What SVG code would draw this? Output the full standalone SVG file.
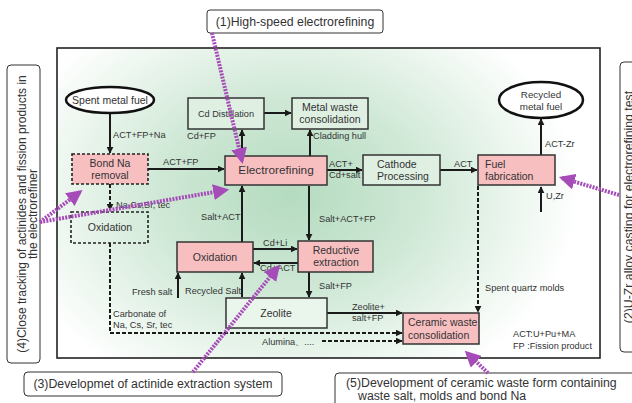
<svg xmlns="http://www.w3.org/2000/svg" width="632" height="403" viewBox="0 0 632 403">
<defs>
<radialGradient id="bg" gradientUnits="userSpaceOnUse" cx="290" cy="195" r="290" gradientTransform="translate(290 195) scale(1 0.75) translate(-290 -195)">
<stop offset="0" stop-color="#b4dbbf"/>
<stop offset="0.45" stop-color="#cfe8d6"/>
<stop offset="0.8" stop-color="#eef7f0"/>
<stop offset="1" stop-color="#ffffff"/>
</radialGradient>
<marker id="ahs" viewBox="0 0 10 10" refX="9" refY="5" markerWidth="7" markerHeight="7" orient="auto" markerUnits="userSpaceOnUse">
<path d="M0,0 L10,5 L0,10 z" fill="#1a1a1a"/>
</marker>
<marker id="pa" viewBox="0 0 10 10" refX="8" refY="5" markerWidth="4" markerHeight="4" orient="auto">
<path d="M0,0 L10,5 L0,10 z" fill="#a64cb8"/>
</marker>
</defs>
<style>
text{font-family:"Liberation Sans",Arial,sans-serif;fill:#333;}
.s{font-size:9.2px;}
.m{font-size:10.5px;}
.l{font-size:11.8px;}
.cl{font-size:12.3px;}
.pk{fill:#f8bfc1;stroke:#333;stroke-width:1.5;}
.pkd{fill:#f8bfc1;stroke:#222;stroke-width:1.6;stroke-dasharray:3,2;}
.gn{fill:#dff0e3;stroke:#333;stroke-width:1.5;}
.wd{fill:none;stroke:#222;stroke-width:1.6;stroke-dasharray:3,2;}
.c{fill:none;stroke:#1a1a1a;stroke-width:2;marker-end:url(#ahs);}
.cd{fill:none;stroke:#1a1a1a;stroke-width:2;stroke-dasharray:4,2;marker-end:url(#ahs);}
.p{fill:none;stroke:#a64cb8;stroke-width:4;stroke-dasharray:2,1.2;marker-end:url(#pa);}
.cb{fill:#fff;stroke:#333;stroke-width:1;}
</style>
<rect x="57" y="48" width="543" height="310" fill="url(#bg)" stroke="#222" stroke-width="1.6"/>
<g id="connectors">
<path class="c" d="M110,113 V153"/>
<path class="c" d="M148,169 H224"/>
<path class="c" d="M264,113 H291"/>
<path class="c" d="M242,156 V130"/>
<path class="c" d="M310,156 V130"/>
<path class="c" d="M327,170 H362"/>
<path class="c" d="M440,170 H477"/>
<path class="c" d="M541,155 V119"/>
<path class="c" d="M541,212 V187"/>
<path class="cd" d="M478,186 V312"/>
<path class="cd" d="M110,184 V210"/>
<path class="cd" d="M110,243 V333 H402"/>
<path class="cd" d="M322,341 H402"/>
<path class="c" d="M242,242 V186"/>
<path class="c" d="M309,186 V240"/>
<path class="c" d="M253,249 H297"/>
<path class="c" d="M298,263 H254"/>
<path class="c" d="M178,298 V273"/>
<path class="c" d="M242,297 V273"/>
<path class="c" d="M309,272 V297"/>
<path class="c" d="M327,313 H402"/>
<text class="s" x="113" y="138">ACT+FP+Na</text>
<text class="s" x="163" y="165">ACT+FP</text>
<text class="s" x="187" y="139">Cd+FP</text>
<text class="s" x="313" y="139">Cladding hull</text>
<text class="s" x="329" y="167">ACT+</text>
<text class="s" x="329" y="178">Cd+salt</text>
<text class="s" x="454" y="167">ACT</text>
<text class="s" x="545" y="147">ACT-Zr</text>
<text class="s" x="546" y="199">U,Zr</text>
<text class="s" x="485" y="291">Spent quartz molds</text>
<text class="s" x="116" y="208">Na,Cs,Sr, tec</text>
<text class="s" x="113" y="317">Carbonate of</text>
<text class="s" x="113" y="328">Na, Cs, Sr, tec</text>
<text class="s" x="262" y="345">Alumina、....</text>
<text class="s" x="201" y="220">Salt+ACT</text>
<text class="s" x="319" y="222">Salt+ACT+FP</text>
<text class="s" x="263" y="246">Cd+Li</text>
<text class="s" x="260" y="271">Cd+ACT</text>
<text class="s" x="132" y="295">Fresh salt</text>
<text class="s" x="185" y="294">Recycled Salt</text>
<text class="s" x="319" y="289">Salt+FP</text>
<text class="s" x="352" y="310">Zeolite+</text>
<text class="s" x="352" y="321">salt+FP</text>
</g>
<g id="spent-metal-fuel">
<ellipse cx="110" cy="100" rx="44" ry="13" fill="#fff" stroke="#111" stroke-width="2.5"/>
<text class="m" x="110" y="104" text-anchor="middle">Spent metal fuel</text>
</g>
<g id="bond-na-removal">
<rect class="pkd" x="72" y="154" width="76" height="30"/>
<text class="m" x="110" y="167" text-anchor="middle">Bond Na</text>
<text class="m" x="110" y="179" text-anchor="middle">removal</text>
</g>
<g id="oxidation-dashed">
<rect class="wd" x="71" y="212" width="77" height="31"/>
<text class="m" x="110" y="231" text-anchor="middle">Oxidation</text>
</g>
<g id="cd-distillation">
<rect class="gn" x="188" y="98" width="76" height="31"/>
<text class="s" x="226" y="117" text-anchor="middle">Cd Distillation</text>
</g>
<g id="metal-waste">
<rect class="gn" x="292" y="98" width="76" height="31"/>
<text class="m" x="330" y="111" text-anchor="middle">Metal waste</text>
<text class="m" x="330" y="123" text-anchor="middle">consolidation</text>
</g>
<g id="electrorefining">
<rect class="pk" x="225" y="156" width="102" height="29"/>
<text class="l" x="276" y="174" text-anchor="middle">Electrorefining</text>
</g>
<g id="cathode-processing">
<rect class="gn" x="363" y="155" width="77" height="30"/>
<text class="m" x="377" y="168">Cathode</text>
<text class="m" x="377" y="180">Processing</text>
</g>
<g id="fuel-fabrication">
<rect class="pk" x="478" y="155" width="77" height="30"/>
<text class="m" x="485" y="168">Fuel</text>
<text class="m" x="485" y="180">fabrication</text>
</g>
<g id="recycled-metal-fuel">
<ellipse cx="541" cy="100" rx="42" ry="18" fill="#fff" stroke="#111" stroke-width="2.5"/>
<text class="s" x="541" y="98" text-anchor="middle" style="font-size:9.8px">Recycled</text>
<text class="s" x="541" y="110" text-anchor="middle" style="font-size:9.8px">metal fuel</text>
</g>
<g id="oxidation">
<rect class="pk" x="177" y="242" width="76" height="30"/>
<text class="m" x="215" y="261" text-anchor="middle">Oxidation</text>
</g>
<g id="reductive-extraction">
<rect class="pk" x="298" y="241" width="75" height="31"/>
<text class="m" x="336" y="254" text-anchor="middle">Reductive</text>
<text class="m" x="336" y="266" text-anchor="middle">extraction</text>
</g>
<g id="zeolite">
<rect x="226" y="298" width="101" height="30" fill="#eaf5ec" stroke="#333" stroke-width="1.5"/>
<text class="m" x="276" y="317" text-anchor="middle">Zeolite</text>
</g>
<g id="ceramic-waste">
<rect class="pk" x="403" y="313" width="76" height="31"/>
<text class="m" x="408" y="326">Ceramic waste</text>
<text class="m" x="408" y="339">consolidation</text>
</g>
<g id="legend">
<text class="s" x="513" y="337">ACT:U+Pu+MA</text>
<text class="s" x="513" y="349">FP   :Fission product</text>
</g>
<g id="callout-1">
<rect class="cb" x="207" y="10" width="176" height="23" rx="3"/>
<text class="cl" x="295" y="26" text-anchor="middle">(1)High-speed electrorefining</text>
</g>
<g id="callout-2">
<rect class="cb" x="620" y="62" width="30" height="290" rx="4"/>
<text class="cl" transform="translate(633 207) rotate(-90)" text-anchor="middle">(2)U-Zr alloy casting for electrorefining test</text>
</g>
<g id="callout-3">
<rect class="cb" x="24" y="372" width="258" height="24" rx="4"/>
<text class="cl" x="153" y="388" text-anchor="middle">(3)Developmet of actinide extraction system</text>
</g>
<g id="callout-4">
<rect class="cb" x="7" y="65" width="33" height="298" rx="4"/>
<text class="cl" transform="translate(25.5 214) rotate(-90)" text-anchor="middle" style="font-size:12px">(4)Close tracking of actinides and fission products in</text>
<text class="cl" transform="translate(37 214) rotate(-90)" text-anchor="middle" style="font-size:12px">the electrorefiner</text>
</g>
<g id="callout-5">
<rect class="cb" x="335" y="373" width="310" height="40" rx="4"/>
<text class="cl" x="346" y="387">(5)Development of ceramic waste form containing</text>
<text class="cl" x="358" y="400">waste salt, molds and bond Na</text>
</g>
<g id="callout-arrows">
<path class="p" d="M212,33 L242,161"/>
<path class="p" d="M40,222 L80,192"/>
<path class="p" d="M40,222 L226,190"/>
<path class="p" d="M619,195 L562,178"/>
<path class="p" d="M193,372 L278,267"/>
<path class="p" d="M488,373 L467,353"/>
</g>
</svg>
